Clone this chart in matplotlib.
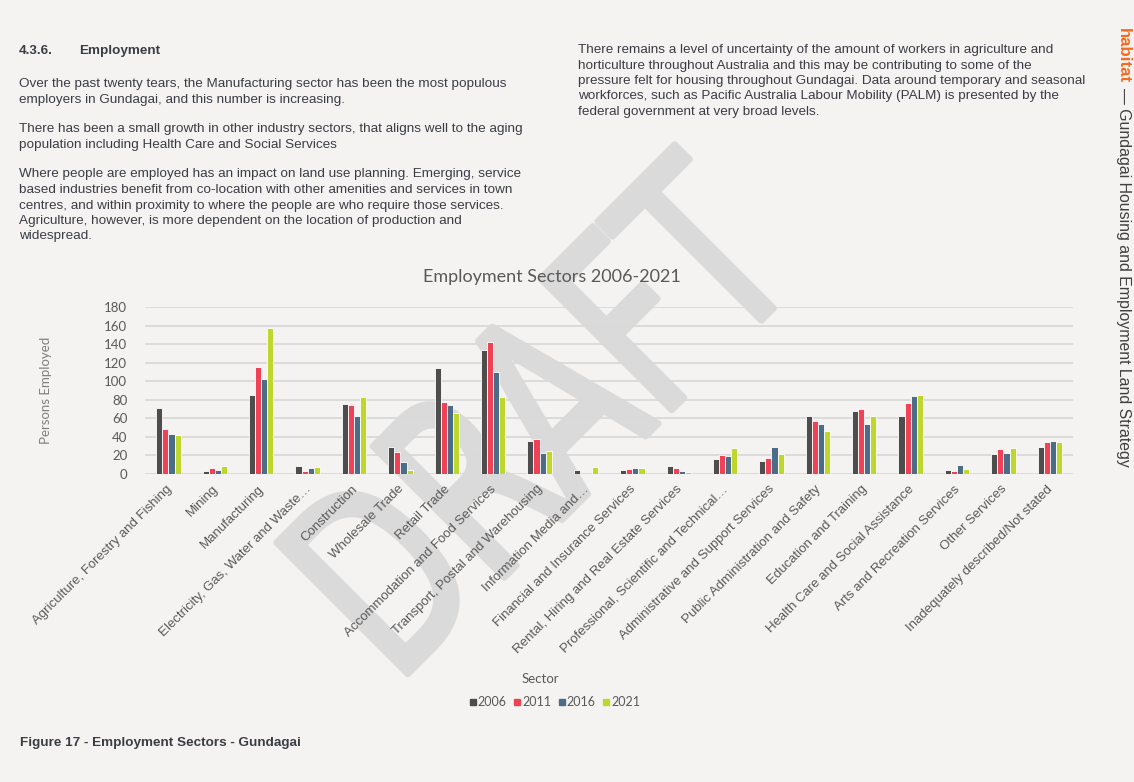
import matplotlib
matplotlib.use("Agg")
import matplotlib.pyplot as plt
import numpy as np
from matplotlib.textpath import TextPath
from matplotlib.font_manager import FontProperties
from matplotlib.patches import PathPatch
from matplotlib.lines import Line2D
import matplotlib.transforms as mtransforms

# ---------------- data ----------------
categories = [
    "Agriculture, Forestry and Fishing", "Mining", "Manufacturing",
    "Electricity, Gas, Water and Waste\u2026", "Construction", "Wholesale Trade",
    "Retail Trade", "Accommodation and Food Services",
    "Transport, Postal and Warehousing", "Information Media and\u2026",
    "Financial and Insurance Services", "Rental, Hiring and Real Estate Services",
    "Professional, Scientific and Technical\u2026",
    "Administrative and Support Services", "Public Administration and Safety",
    "Education and Training", "Health Care and Social Assistance",
    "Arts and Recreation Services", "Other Services",
    "Inadequately described/Not stated",
]
years = ["2006", "2011", "2016", "2021"]
v2006 = [71, 3, 85, 9, 75, 29, 114, 134, 36, 4, 4, 9, 16, 14, 63, 68, 62, 4, 22, 29]
v2011 = [48, 6, 115, 3, 74, 24, 78, 142, 38, 0, 5, 6, 20, 17, 57, 70, 76, 3, 27, 35]
v2016 = [43, 4, 102, 7, 63, 13, 74, 110, 23, 0, 7, 3, 19, 29, 54, 54, 84, 10, 23, 36]
v2021 = [42, 9, 157, 8, 83, 4, 66, 83, 25, 8, 7, 2, 28, 22, 46, 63, 85, 5, 28, 34]
yticks = [0, 20, 40, 60, 80, 100, 120, 140, 160, 180]

left_heading_num = "4.3.6."
left_heading = "Employment"
left_lines = [
    "Over the past twenty tears, the Manufacturing sector has been the most populous",
    "employers in Gundagai, and this number is increasing.",
    "There has been a small growth in other industry sectors, that aligns well to the aging",
    "population including Health Care and Social Services",
    "Where people are employed has an impact on land use planning. Emerging, service",
    "based industries benefit from co-location with other amenities and services in town",
    "centres, and within proximity to where the people are who require those services.",
    "Agriculture, however, is more dependent on the location of production and",
    "widespread.",
]
right_lines = [
    "There remains a level of uncertainty of the amount of workers in agriculture and",
    "horticulture throughout Australia and this may be contributing to some of the",
    "pressure felt for housing throughout Gundagai. Data around temporary and seasonal",
    "workforces, such as Pacific Australia Labour Mobility (PALM) is presented by the",
    "federal government at very broad levels.",
]
caption = "Figure 17 - Employment Sectors - Gundagai"
side_brand = "habitat"
side_title = "\u2014 Gundagai Housing and Employment Land Strategy"

# ---------------- style ----------------
W, H = 1134, 782
BG = "#f4f3f1"
colors = ["#4d4d4d", "#ef4257", "#4b6d88", "#bfd62f"]
TXT = "#3b3d45"
GREY = "#595959"
BODY = ["Liberation Sans", "DejaVu Sans"]
CHART = ["Lato", "Liberation Sans", "DejaVu Sans"]

fig = plt.figure(figsize=(W / 100, H / 100), dpi=100, facecolor=BG)


def fx(x):
    return x / W


def fy(y):
    return 1 - y / H


# ---------------- watermark ----------------
tp = TextPath((0, 0), "DRAFT", size=1, prop=FontProperties(family="DejaVu Sans"))
aff = (mtransforms.Affine2D().translate(-0.147, 0).scale(177, 255)
       .rotate_deg(45).translate(414, H - 668).scale(1 / 100))
wm = PathPatch(tp, facecolor="#dadada", edgecolor="#dadada", linewidth=4.5,
               joinstyle="round", capstyle="round",
               transform=aff + fig.dpi_scale_trans, zorder=0.5)
fig.add_artist(wm)

# ---------------- page text ----------------
BFS = 9.7
fig.text(fx(18.6), fy(49.3 + 4.5), left_heading_num, family=BODY, weight="bold",
         fontsize=BFS, color=TXT, va="baseline", ha="left")
fig.text(fx(79.3), fy(49.3 + 4.5), left_heading, family=BODY, weight="bold",
         fontsize=BFS, color=TXT, va="baseline", ha="left")
left_y = [82.3, 98.3, 127.7, 143.3, 172.7, 188.3, 204, 219.3, 234.3]
for s, yy in zip(left_lines, left_y):
    fig.text(fx(18.6), fy(yy + 4.5), s, family=BODY, fontsize=BFS, color=TXT,
             va="baseline", ha="left")
right_y = [48.3, 64, 79.3, 95, 110]
for s, yy in zip(right_lines, right_y):
    fig.text(fx(577.6), fy(yy + 4.5), s, family=BODY, fontsize=BFS, color=TXT,
             va="baseline", ha="left")

fig.text(fx(20), fy(741.7 + 4.5), caption, family=BODY, weight="bold",
         fontsize=9.7, color=TXT, va="baseline", ha="left")

fig.text(fx(1119), fy(28), side_brand, family=BODY, weight="bold", fontsize=12.2,
         color="#f26b21", rotation=-90, rotation_mode="anchor",
         ha="left", va="baseline")
fig.text(fx(1119), fy(88), side_title, family=BODY, fontsize=11.4,
         color="#404040", rotation=-90, rotation_mode="anchor",
         ha="left", va="baseline")

# ---------------- chart ----------------
ax_l, ax_r, ax_t, ax_b = 145.3, 1073.0, 307.0, 474.0
ax = fig.add_axes([fx(ax_l), fy(ax_b), (ax_r - ax_l) / W, (ax_b - ax_t) / H])
ax.set_facecolor("none")
ax.set_zorder(1)

x = np.arange(len(categories))
bw = 0.1315
series = [v2006, v2011, v2016, v2021]
for i, (vals, col) in enumerate(zip(series, colors)):
    ax.bar(x + (i - 1.5) * bw, vals, width=bw, color=col, edgecolor="white",
           linewidth=0.6, zorder=3)

ax.set_xlim(-0.5, len(categories) - 0.5)
ax.set_ylim(0, 180)
ax.set_yticks(yticks)
ax.set_yticklabels([str(t) for t in yticks], family=CHART, fontsize=9.5, color=GREY)
ax.yaxis.grid(True, color="#d9d9d9", linewidth=1.3)
ax.set_axisbelow(True)
ax.tick_params(axis="y", length=0, pad=13)
ax.set_xticks([])
for sp in ax.spines.values():
    sp.set_visible(False)

lab_tr = (mtransforms.blended_transform_factory(ax.transData, ax.transAxes)
          + mtransforms.ScaledTranslation(-3 / 100, -9 / 100, fig.dpi_scale_trans))
for xi, lab in zip(x, categories):
    ax.text(xi, 0, lab, transform=lab_tr, rotation=45, rotation_mode="anchor",
            ha="right", va="top", family=BODY, fontsize=9.5, color=GREY,
            clip_on=False)

fig.text(fx(551.7), fy(277), "Employment Sectors 2006-2021", family=CHART,
         fontsize=13, color=GREY, ha="center", va="center")
fig.text(fx(46), fy(390), "Persons Employed", family=CHART,
         fontsize=9.5, color="#7f7f7f", rotation=90, ha="center", va="center")
fig.text(fx(540), fy(679), "Sector", family=CHART, fontsize=9.5, color=GREY,
         ha="center", va="center")

handles = [Line2D([], [], marker="s", linestyle="none", markersize=5,
                  markerfacecolor=c, markeredgecolor=c) for c in colors]
fig.legend(handles, years, loc="center", bbox_to_anchor=(fx(554), fy(702)),
           ncol=4, frameon=False, handletextpad=0.0, columnspacing=0.45,
           handlelength=0.8, prop=FontProperties(family=CHART, size=9),
           labelcolor=GREY, borderpad=0)

fig.savefig("out.png", dpi=100, facecolor=BG)
